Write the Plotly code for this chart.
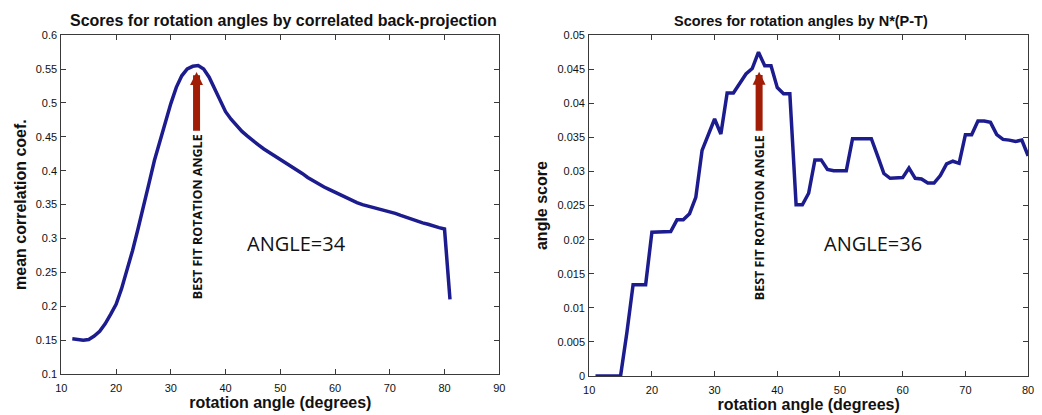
import plotly.graph_objects as go

# ---- data ----
left_angles = list(range(12, 82))
left_scores = [0.152, 0.151, 0.150, 0.151, 0.156, 0.163, 0.174, 0.188, 0.203, 0.226,
               0.253, 0.282, 0.314, 0.350, 0.381, 0.415, 0.444, 0.471, 0.499, 0.523,
               0.540, 0.550, 0.554, 0.555, 0.550, 0.538, 0.521, 0.503, 0.487, 0.476,
               0.466, 0.458, 0.451, 0.444, 0.438, 0.432, 0.427, 0.422, 0.417, 0.412,
               0.407, 0.401, 0.396, 0.390, 0.385, 0.381, 0.376, 0.372, 0.368, 0.364,
               0.360, 0.356, 0.353, 0.350, 0.348, 0.346, 0.344, 0.342, 0.339, 0.337,
               0.334, 0.331, 0.328, 0.325, 0.323, 0.321, 0.318, 0.316, 0.314, 0.210]

right_angles = list(range(11, 81))
right_scores = [0.0, 0.0, 0.0, 0.0, 0.0, 0.0063, 0.0134, 0.0134, 0.0134, 0.0211,
                0.0211, 0.0212, 0.0212, 0.0229, 0.0229, 0.0238, 0.0262, 0.0331, 0.0354, 0.0377,
                0.0355, 0.0415, 0.0415, 0.0428, 0.0443, 0.0451, 0.0475, 0.0455, 0.0455, 0.0423,
                0.0414, 0.0414, 0.0251, 0.0251, 0.0268, 0.0317, 0.0317, 0.0303, 0.0301, 0.0301,
                0.0301, 0.0348, 0.0348, 0.0348, 0.0348, 0.0323, 0.0297, 0.0290, 0.0290, 0.0291,
                0.0305, 0.0290, 0.0289, 0.0283, 0.0283, 0.0294, 0.0311, 0.0315, 0.0312, 0.0354,
                0.0354, 0.0374, 0.0374, 0.0372, 0.0354, 0.0347, 0.0346, 0.0344, 0.0346, 0.0323]

left_xticks = [10, 20, 30, 40, 50, 60, 70, 80, 90]
left_xtext = ["10", "20", "30", "40", "50", "60", "70", "80", "90"]
left_yticks = [0.1, 0.15, 0.2, 0.25, 0.3, 0.35, 0.4, 0.45, 0.5, 0.55, 0.6]
left_ytext = ["0.1", "0.15", "0.2", "0.25", "0.3", "0.35", "0.4", "0.45", "0.5", "0.55", "0.6"]
right_xticks = [10, 20, 30, 40, 50, 60, 70, 80]
right_xtext = ["10", "20", "30", "40", "50", "60", "70", "80"]
right_yticks = [0, 0.005, 0.01, 0.015, 0.02, 0.025, 0.03, 0.035, 0.04, 0.045, 0.05]
right_ytext = ["0", "0.005", "0.01", "0.015", "0.02", "0.025", "0.03", "0.035", "0.04", "0.045", "0.05"]

left_title = "Scores for rotation angles by correlated back-projection"
right_title = "Scores for rotation angles by N*(P-T)"
left_best = 34
right_best = 36

# ---- styling ----
W, H = 1042, 415
LINE = "#1c1c8f"
ARROW = "#a11d06"
AX = "#3a3a3a"
TICKFONT = dict(family="Liberation Sans, Arial, sans-serif", size=11, color="#111")
TITLEFONT = dict(family="Liberation Sans, Arial, sans-serif", size=16, color="#111")

fig = go.Figure()
fig.add_trace(go.Scatter(x=left_angles, y=left_scores, mode="lines",
                         line=dict(color=LINE, width=3.5), xaxis="x", yaxis="y",
                         showlegend=False))
fig.add_trace(go.Scatter(x=right_angles, y=right_scores, mode="lines",
                         line=dict(color=LINE, width=3.5), xaxis="x2", yaxis="y2",
                         showlegend=False))

axis_common = dict(showline=True, linecolor=AX, linewidth=1, mirror="ticks",
                   ticks="inside", ticklen=5, tickcolor=AX, showgrid=False,
                   zeroline=False, tickfont=TICKFONT)

def px_x(p):
    return p / W

def px_y(p):
    return 1 - p / H

fig.update_layout(
    width=W, height=H,
    margin=dict(l=0, r=0, t=0, b=0),
    paper_bgcolor="white", plot_bgcolor="white",
    xaxis=dict(domain=[px_x(56), px_x(499)], range=[10, 90], tickvals=left_xticks,
               ticktext=left_xtext, anchor="y", ticklabelstandoff=4,
               title=dict(text="<b>rotation angle (degrees)</b>", font=TITLEFONT, standoff=1),
               **axis_common),
    yaxis=dict(domain=[px_y(379), px_y(30)], range=[0.1, 0.6], tickvals=left_yticks,
               ticktext=left_ytext, anchor="x", ticklabelstandoff=1,
               title=dict(text="<b>mean correlation coef.</b>", font=TITLEFONT, standoff=5),
               **axis_common),
    xaxis2=dict(domain=[px_x(590), px_x(1034)], range=[10, 80], tickvals=right_xticks,
                ticktext=right_xtext, anchor="y2", ticklabelstandoff=4,
                title=dict(text="<b>rotation angle (degrees)</b>", font=TITLEFONT, standoff=1),
                **axis_common),
    yaxis2=dict(domain=[px_y(381), px_y(30)], range=[0, 0.05], tickvals=right_yticks,
                ticktext=right_ytext, anchor="x2", ticklabelstandoff=1,
                title=dict(text="<b>angle score</b>", font=TITLEFONT, standoff=5),
                **axis_common),
)

ann = []
# titles
ann.append(dict(text="<b>" + left_title + "</b>", xref="paper", yref="paper",
                x=px_x(281), y=px_y(15), showarrow=False, xanchor="center", yanchor="middle",
                font=dict(family="Liberation Sans, Arial, sans-serif", size=16, color="#111")))
ann.append(dict(text="<b>" + right_title + "</b>", xref="paper", yref="paper",
                x=px_x(804), y=px_y(15), showarrow=False, xanchor="center", yanchor="middle",
                font=dict(family="Liberation Sans, Arial, sans-serif", size=14.5, color="#111")))
# ANGLE labels
ann.append(dict(text=f"ANGLE={left_best}", xref="x", yref="y", x=53.0, y=0.293,
                showarrow=False, font=dict(family="Open Sans, sans-serif", size=20, color="#111")))
ann.append(dict(text=f"ANGLE={right_best}", xref="x2", yref="y2", x=55.3, y=0.0195,
                showarrow=False, font=dict(family="Open Sans, sans-serif", size=20, color="#111")))
# vertical labels
ann.append(dict(text="<b>BEST FIT ROTATION ANGLE</b>", xref="x", yref="y", x=34.87, y=0.332,
                textangle=-90, showarrow=False,
                font=dict(family="Open Sans, sans-serif", size=12.5, color="#111")))
ann.append(dict(text="<b>BEST FIT ROTATION ANGLE</b>", xref="x2", yref="y2", x=37.14, y=0.0232,
                textangle=-90, showarrow=False,
                font=dict(family="Open Sans, sans-serif", size=12.5, color="#111")))
# arrows
ann.append(dict(text="", xref="x", yref="y", axref="x", ayref="y",
                x=34.7, y=0.5456, ax=34.7, ay=0.4567, showarrow=True,
                arrowhead=2, arrowsize=0.37, arrowwidth=7, arrowcolor=ARROW, standoff=0))
ann.append(dict(text="", xref="x2", yref="y2", axref="x2", ayref="y2",
                x=37.1, y=0.04463, ax=37.1, ay=0.03575, showarrow=True,
                arrowhead=2, arrowsize=0.37, arrowwidth=7, arrowcolor=ARROW, standoff=0))
fig.update_layout(annotations=ann)

fig.write_html("out.html")
